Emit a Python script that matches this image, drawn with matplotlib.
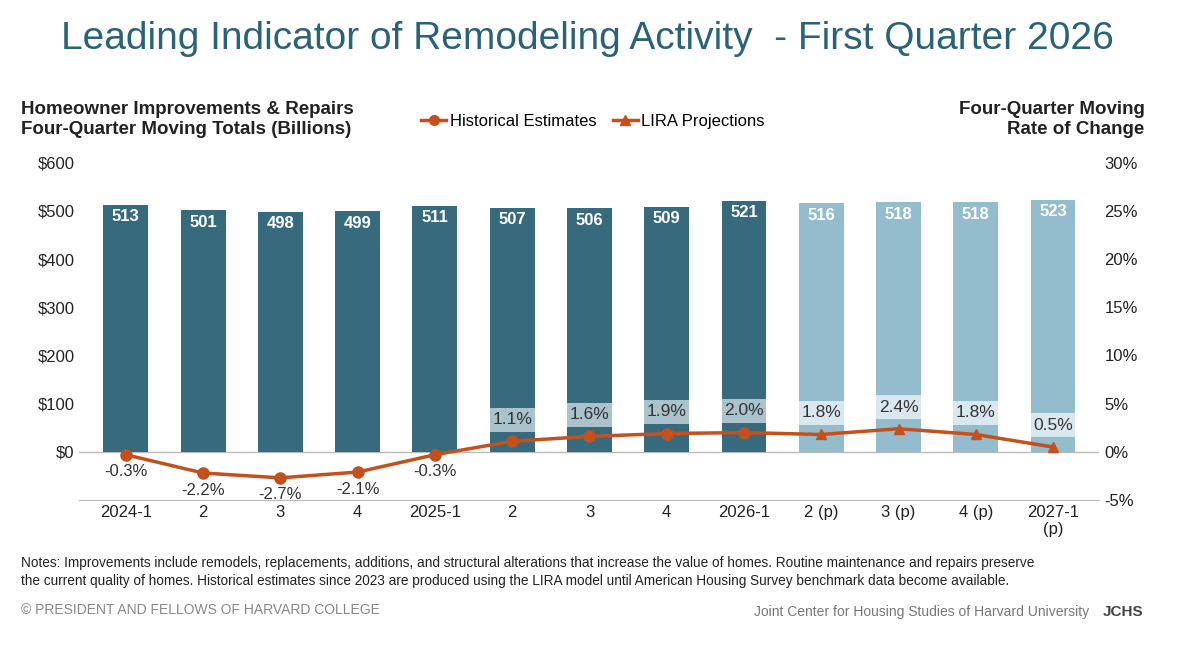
import numpy as np
import matplotlib.pyplot as plt
from matplotlib.lines import Line2D

plt.rcParams['font.family'] = ['Liberation Sans', 'DejaVu Sans']

quarters = ['2024-1', '2', '3', '4', '2025-1', '2', '3', '4', '2026-1', '2 (p)', '3 (p)', '4 (p)', '2027-1\n(p)']
spending = [513, 501, 498, 499, 511, 507, 506, 509, 521, 516, 518, 518, 523]
rate = [-0.3, -2.2, -2.7, -2.1, -0.3, 1.1, 1.6, 1.9, 2.0, 1.8, 2.4, 1.8, 0.5]
n_hist = 9

dark = '#386a7e'
light = '#93bccd'
orange = '#c5501c'

fig = plt.figure(figsize=(11.86, 6.46), dpi=100)
ax = fig.add_axes([0.067, 0.226, 0.86, 0.522])
ax2 = ax.twinx()
x = np.arange(len(quarters))
colors = [dark if i < n_hist else light for i in range(len(x))]
ax.bar(x, spending, width=0.58, color=colors, zorder=2)
for i, v in enumerate(spending):
    ax.text(i, v - 25, str(v), ha='center', va='center', color='white',
            fontsize=12, fontweight='bold', zorder=4)

ax.set_ylim(-100, 600)
ax.set_yticks(range(0, 601, 100))
ax.set_yticklabels(['$0', '$100', '$200', '$300', '$400', '$500', '$600'])
ax.set_xlim(-0.6, len(x) - 0.4)
ax.set_xticks(x)
ax.set_xticklabels(quarters)
ax2.set_ylim(-5, 30)
ax2.set_yticks(range(-5, 31, 5))
ax2.set_yticklabels([f'{t}%' for t in range(-5, 31, 5)])
for a in (ax, ax2):
    a.tick_params(length=0, labelsize=12, colors='#222222')
    for s in a.spines.values():
        s.set_visible(False)
ax.spines['bottom'].set_visible(True)
ax.spines['bottom'].set_color('#bbbbbb')
ax.axhline(0, color='#bbbbbb', lw=1, zorder=1)

ax2.plot(x, rate, color=orange, lw=2.5, zorder=5)
ax2.plot(x[:n_hist], rate[:n_hist], 'o', color=orange, ms=8, zorder=6)
ax2.plot(x[n_hist:], rate[n_hist:], '^', color=orange, ms=7, zorder=6)
for i, v in enumerate(rate):
    if v < 0:
        ax2.text(i, v - 1.0, f'{v:.1f}%', ha='center', va='top', fontsize=12, color='#333333')
    else:
        box = '#a9c2cc' if i < n_hist else '#d9e7ee'
        ax2.bar(i, 2.5, bottom=v + 1.0, width=0.58, color=box, zorder=3)
        ax2.text(i, v + 2.25, f'{v:.1f}%', ha='center', va='center', fontsize=12.5,
                 color='#333333', zorder=7)
ax.set_zorder(1)
ax2.set_zorder(2)
ax.patch.set_visible(False)

fig.text(0.495, 0.94, 'Leading Indicator of Remodeling Activity  - First Quarter 2026',
         ha='center', va='center', fontsize=28, color='#2a6377')
fig.text(0.018, 0.815, 'Homeowner Improvements & Repairs\nFour-Quarter Moving Totals (Billions)',
         ha='left', va='center', fontsize=13.5, fontweight='bold', color='#222222', linespacing=1.2)
fig.text(0.965, 0.815, 'Four-Quarter Moving\nRate of Change', ha='right', va='center',
         fontsize=13.5, fontweight='bold', color='#222222', linespacing=1.2)
handles = [Line2D([], [], color=orange, lw=2.5, marker='o', ms=7),
           Line2D([], [], color=orange, lw=2.5, marker='^', ms=7)]
fig.legend(handles, ['Historical Estimates', 'LIRA Projections'], loc='center',
           bbox_to_anchor=(0.5, 0.812), ncol=2, frameon=False, fontsize=12,
           handlelength=1.5, handletextpad=0.2, columnspacing=1.0)

fig.text(0.018, 0.115, 'Notes: Improvements include remodels, replacements, additions, and structural alterations that increase the value of homes. Routine maintenance and repairs preserve\n'
         'the current quality of homes. Historical estimates since 2023 are produced using the LIRA model until American Housing Survey benchmark data become available.',
         ha='left', va='center', fontsize=9.8, color='#222222', linespacing=1.4)
fig.text(0.018, 0.055, '© PRESIDENT AND FELLOWS OF HARVARD COLLEGE', ha='left', va='center',
         fontsize=10, color='#888888')
fig.text(0.918, 0.052, 'Joint Center for Housing Studies of Harvard University', ha='right',
         va='center', fontsize=10, color='#777777')
fig.text(0.93, 0.052, 'JCHS', ha='left', va='center', fontsize=11, fontweight='bold',
         color='#444444')

fig.savefig('out.png', dpi=100)
